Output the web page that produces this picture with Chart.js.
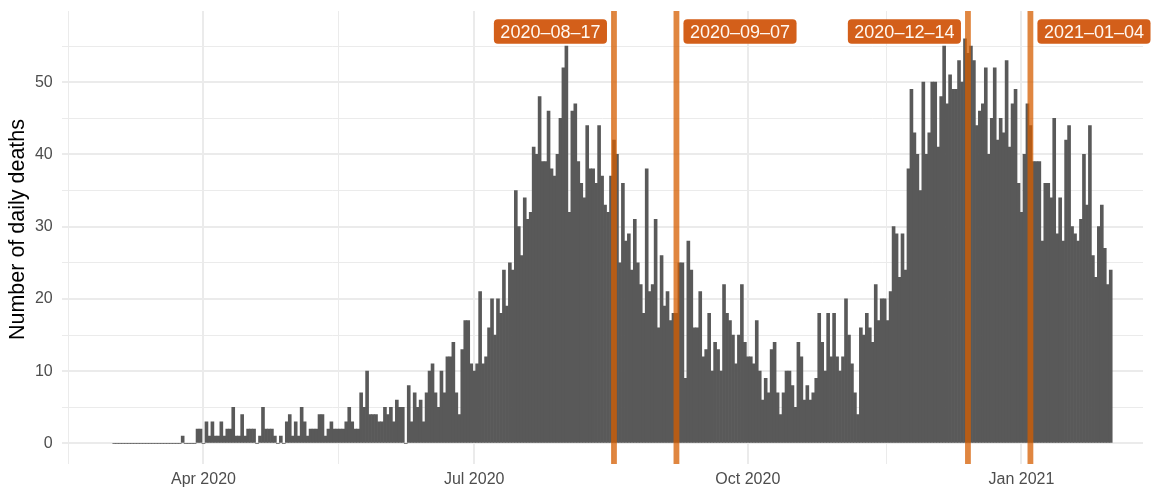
<!DOCTYPE html>
<html>
<head>
<meta charset="utf-8">
<script src="https://cdn.jsdelivr.net/npm/chart.js@4.4.1/dist/chart.umd.min.js"></script>
<style>
  html, body { margin: 0; padding: 0; background: #fff; }
</style>
</head>
<body>
<canvas id="chart" width="1153" height="489"></canvas>
<script>
// daily deaths, one array per month (index 0 = 1st of the month)
const deathsMar2020 = [null, 0,0,0,0,0,0,0,0,0,0, 0,0,0,0,0,0,0,0,0,0, 0,0,0, 1, 0,0,0,0, 2,2];
const deathsApr2020 = [0,3,1,3,1,1,3,1,2,2, 5,1,1,4,1,2,2,2,0,1, 5,2,2,2,1,0,1,0,3,4];
const deathsMay2020 = [1,3,1,5,3,1,2,2,2,4, 4,1,2,3,2,2,2,2,3,5, 3,2,2,7,5,10,4,4,4,3, 3];
const deathsJun2020 = [5,4,5,3,6,5,5,0,8,3, 7,5,6,3,7,10,11,7,5,10, 7,12,12,14,7,4,13,17,17,11];
const deathsJul2020 = [10,11,21,11,12,16,20,15,20,18, 24,19,25,24,35,30,26,34,31,32, 41,40,48,39,39,46,38,37,40,45, 52];
const deathsAug2020 = [55,32,46,47,39,36,34,44,38,38, 36,44,37,33,32,37,42,40,25,36, 28,29,24,31,25,22,18,38,21,22, 31];
const deathsSep2020 = [16,26,19,21,17,18,18,25,25,9, 28,24,16,16,21,12,13,18,10,14, 13,10,22,18,17,15,11,15,22,14];
const deathsOct2020 = [12,12,11,17,10,6,9,7,13,14, 7,4,7,10,10,8,5,14,12,6, 8,6,7,9,18,14,10,18,12,18, 12];
const deathsNov2020 = [10,12,20,15,11,7,4,16,15,18, 16,14,22,17,20,20,17,21,30,29, 23,29,24,38,49,43,40,35,50,40];
const deathsDec2020 = [43,50,50,41,48,55,47,51,49,49, 53,50,56,54,55,53,44,46,47,52, 40,45,52,42,45,43,53,41,47,49, 36];
const deathsJan2021 = [32,40,47,44,39,39,39,28,36,36, 34,45,29,34,28,42,44,30,29,28, 31,40,33,44,26,23,30,33,27,22, 24];

const monthStarts = ['2020-03-01','2020-04-01','2020-05-01','2020-06-01','2020-07-01','2020-08-01',
                     '2020-09-01','2020-10-01','2020-11-01','2020-12-01','2021-01-01'];
const monthly = [deathsMar2020, deathsApr2020, deathsMay2020, deathsJun2020, deathsJul2020, deathsAug2020,
                 deathsSep2020, deathsOct2020, deathsNov2020, deathsDec2020, deathsJan2021];

// marked dates
const eventDates = ['2020-08-17', '2020-09-07', '2020-12-14', '2021-01-04'];
const eventSide = ['left', 'right', 'left', 'right'];
const labelLevel = 57;

// axis ticks
const xTickDates = ['2020-04-01', '2020-07-01', '2020-10-01', '2021-01-01'];
const xTickLabels = ['Apr 2020', 'Jul 2020', 'Oct 2020', 'Jan 2021'];
const xMinorDates = ['2020-02-15', '2020-05-16', '2020-08-16', '2020-11-16'];
const yTicks = [0, 10, 20, 30, 40, 50];
const yMinor = [5, 15, 25, 35, 45, 55];
const yTitle = 'Number of daily deaths';

const DAY0 = Date.UTC(2020, 0, 1);
function dayNum(iso) {
    const [y, m, d] = iso.split('-').map(Number);
    return (Date.UTC(y, m - 1, d) - DAY0) / 86400000;
}

const points = [];
monthly.forEach((arr, k) => {
    const start = dayNum(monthStarts[k]);
    arr.forEach((v, i) => { if (v !== null) points.push({ x: start + i, y: v }); });
});

const xMajor = xTickDates.map(dayNum);
const xMinor = xMinorDates.map(d => dayNum(d) + 0.5);
const FONT = '"Liberation Sans", Arial, sans-serif';
const GRID = '#ebebeb';

const eventPlugin = {
    id: 'events',
    afterDatasetsDraw(chart) {
        const ctx = chart.ctx;
        const xs = chart.scales.x, ys = chart.scales.y;
        const area = chart.chartArea;
        ctx.save();
        ctx.strokeStyle = 'rgba(213, 94, 0, 0.75)';
        ctx.lineWidth = 5.8;
        eventDates.forEach(d => {
            const px = xs.getPixelForValue(dayNum(d));
            ctx.beginPath();
            ctx.moveTo(px, area.top);
            ctx.lineTo(px, area.bottom);
            ctx.stroke();
        });
        ctx.font = '18px ' + FONT;
        ctx.textBaseline = 'middle';
        const cy = ys.getPixelForValue(labelLevel);
        eventDates.forEach((d, i) => {
            const px = xs.getPixelForValue(dayNum(d));
            const text = d.replace(/-/g, '\u2013');
            const w = ctx.measureText(text).width + 13;
            const h = 24.5;
            const left = eventSide[i] === 'left' ? px - 7 - w : px + 7;
            ctx.fillStyle = '#d35f1a';
            ctx.beginPath();
            ctx.roundRect(left, cy - h / 2, w, h, 4);
            ctx.fill();
            ctx.fillStyle = '#fff8f2';
            ctx.textAlign = 'center';
            ctx.fillText(text, left + w / 2, cy + 1);
        });

        // y axis title, drawn by hand so it sits where the original has it
        ctx.font = '21.5px ' + FONT;
        ctx.fillStyle = '#000';
        ctx.textAlign = 'center';
        ctx.textBaseline = 'middle';
        ctx.translate(18, (area.top + area.bottom) / 2 - 8);
        ctx.rotate(-Math.PI / 2);
        ctx.fillText(yTitle, 0, 0);
        ctx.restore();
    }
};

new Chart(document.getElementById('chart'), {
    type: 'bar',
    data: {
        datasets: [{
            data: points,
            backgroundColor: '#595959',
            borderWidth: 0,
            barPercentage: 1,
            categoryPercentage: 1
        }]
    },
    options: {
        responsive: false,
        animation: false,
        layout: { padding: { top: 11, right: 10, left: 0, bottom: 0 } },
        plugins: { legend: { display: false }, tooltip: { enabled: false } },
        scales: {
            x: {
                type: 'linear',
                offset: false,
                min: 43.33,
                max: 406.85,
                afterBuildTicks: s => { s.ticks = xMinor.concat(xMajor).sort((a, b) => a - b).map(v => ({ value: v })); },
                afterFit: s => { s.height = 25; s.paddingLeft = 0; s.paddingRight = 0; },
                grid: {
                    offset: false,
                    drawTicks: false,
                    color: GRID,
                    lineWidth: c => xMajor.includes(c.tick.value) ? 2 : 1
                },
                border: { display: false },
                ticks: {
                    autoSkip: false,
                    maxRotation: 0,
                    padding: 6,
                    color: '#4d4d4d',
                    font: { family: FONT, size: 16 },
                    callback: v => { const i = xMajor.indexOf(v); return i >= 0 ? xTickLabels[i] : ''; }
                }
            },
            y: {
                min: -2.85,
                max: 59.85,
                afterBuildTicks: s => { s.ticks = yTicks.concat(yMinor).sort((a, b) => a - b).map(v => ({ value: v })); },
                afterFit: s => { s.width = 61.7; s.paddingTop = 0; s.paddingBottom = 0; },
                grid: {
                    drawTicks: false,
                    color: GRID,
                    lineWidth: c => yTicks.includes(c.tick.value) ? 2 : 1
                },
                border: { display: false },
                ticks: {
                    padding: 9,
                    color: '#4d4d4d',
                    font: { family: FONT, size: 16 },
                    callback: v => yTicks.includes(v) ? String(v) : ''
                },
                title: { display: false }
            }
        }
    },
    plugins: [eventPlugin]
});
</script>
</body>
</html>
